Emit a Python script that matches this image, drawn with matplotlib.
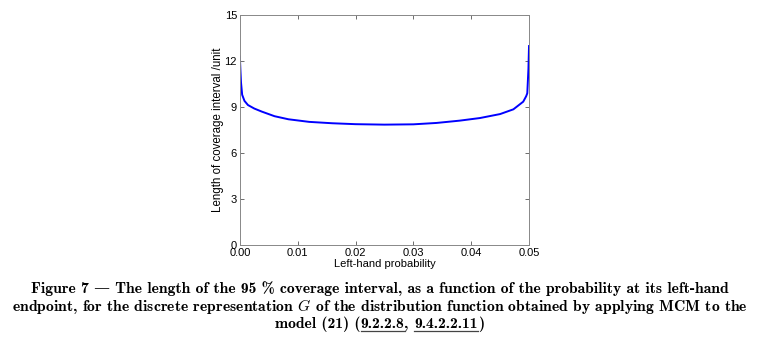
import numpy as np
import matplotlib.pyplot as plt

# values
left_prob = [0.0, 0.0001, 0.0002, 0.0004, 0.0008, 0.0014, 0.0025, 0.0038, 0.006, 0.0084,
             0.012, 0.016, 0.02, 0.025, 0.03, 0.034, 0.038, 0.0415, 0.045, 0.0473,
             0.049, 0.0495, 0.0497, 0.0499, 0.05]
interval_len = [12.3, 11.4, 10.6, 9.8, 9.4, 9.13, 8.9, 8.7, 8.4, 8.2,
                8.03, 7.94, 7.88, 7.85, 7.87, 7.96, 8.11, 8.28, 8.54, 8.85,
                9.35, 9.7, 9.9, 11.5, 12.98]

xticks = [0.0, 0.01, 0.02, 0.03, 0.04, 0.05]
xticklabels = ['0.00', '0.01', '0.02', '0.03', '0.04', '0.05']
yticks = [0, 3, 6, 9, 12, 15]

caption_lines = [
    "Figure 7 \u2014 The length of the 95 % coverage interval, as a function of the probability at its left-hand",
    "endpoint, for the discrete representation $G$ of the distribution function obtained by applying MCM to the",
]
last_line = ["model (21) (", "9.2.2.8", ", ", "9.4.2.2.11", ")"]
underlined = [False, True, False, True, False]

plt.rcParams['mathtext.fontset'] = 'cm'
cap_font = dict(fontsize=11.3, family=['cmb10', 'DejaVu Serif'])

fig = plt.figure(figsize=(7.59, 3.43), dpi=100)
ax = fig.add_axes([0.316, 0.286, 0.381, 0.670])

ax.plot(left_prob, interval_len, color='#0000ff', linewidth=1.4)

ax.set_xlim(0, 0.05)
ax.set_ylim(0, 15)
ax.set_xticks(xticks)
ax.set_xticklabels(xticklabels)
ax.set_yticks(yticks)
ax.tick_params(direction='in', top=True, right=True, length=3, width=0.6,
               color='#555555', labelsize=8, pad=2)
for lbl in ax.get_xticklabels() + ax.get_yticklabels():
    lbl.set_family('Liberation Sans')
for sp in ax.spines.values():
    sp.set_color('#888888')
    sp.set_linewidth(0.7)

ax.set_xlabel('Left-hand probability', fontsize=8, family='Liberation Sans', labelpad=1)
ax.set_ylabel('Length of coverage interval /unit', fontsize=8.3, family='Liberation Sans', labelpad=0.5)

# caption lines, baseline positions in figure pixels from top
line_y = [293, 310.5, 328]
H = 343.0
W = 759.0
for s, y in zip(caption_lines, line_y):
    fig.text(0.5, 1 - y / H, s, ha='center', va='baseline', **cap_font)

# last line: lay pieces out left to right, underline the references
renderer = fig.canvas.get_renderer()
widths = []
for piece in last_line:
    t = fig.text(0, 0, piece.replace(' ', '\u00a0'), **cap_font)
    widths.append(t.get_window_extent(renderer).width)
    t.remove()
x = W / 2 - sum(widths) / 2
yb = 1 - line_y[2] / H
for piece, w, ul in zip(last_line, widths, underlined):
    fig.text(x / W, yb, piece.replace(' ', '\u00a0'), ha='left', va='baseline', **cap_font)
    if ul:
        fig.add_artist(plt.Line2D([x / W, (x + w) / W], [yb - 2.5 / H] * 2,
                                  color='#444444', linewidth=0.9))
    x += w

fig.savefig('out.png', dpi=100)
